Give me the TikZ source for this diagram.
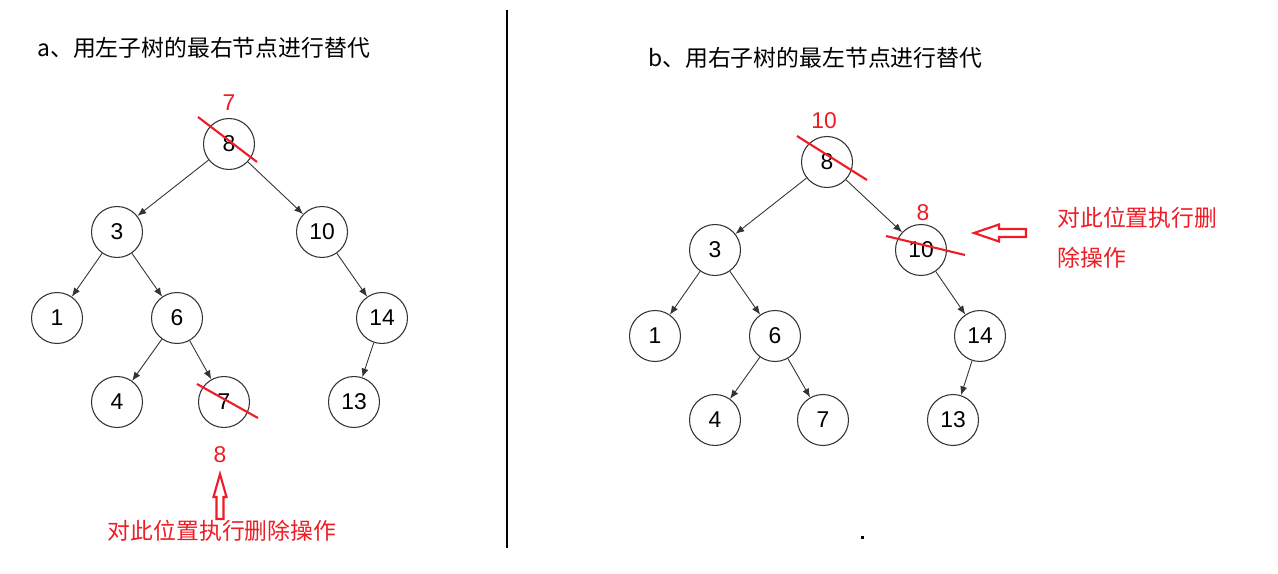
\documentclass[tikz,border=0pt]{standalone}
\usepackage{fontspec}
\setmainfont{Liberation Sans}
\newfontfamily\cjk{Noto Sans CJK SC}
\usepackage{tikz}
\usetikzlibrary{arrows.meta, calc}
\definecolor{hongse}{HTML}{EE1C25}
\definecolor{xianse}{HTML}{333333}

\begin{document}
\begin{tikzpicture}[
  x=0.02cm, y=-0.02cm,
  jiedian/.style={
    circle, draw=xianse, line width=0.6pt,
    minimum size=1.02cm, inner sep=0pt,
    font=\fontsize{13}{15}\selectfont
  },
  bian/.style={-{Latex[length=5pt,width=4pt]}, color=xianse, line width=0.5pt},
  huaxian/.style={color=hongse, line width=1.2pt},
  hongzi/.style={text=hongse, font=\fontsize{13}{15}\selectfont, inner sep=0pt},
  biaoti/.style={anchor=west, font=\cjk\fontsize{13}{15}\selectfont, inner sep=0pt},
  kongjian/.style={draw=hongse, line width=1.2pt, fill=white}
]
  \useasboundingbox (0,0) rectangle (1278,574);

  % a: left tree
  \node[biaoti] (ta) at (37,48) {a、用左子树的最右节点进行替代};
  \node[jiedian] (l8)  at (229,144) {8};
  \node[jiedian] (l3)  at (117,232) {3};
  \node[jiedian] (l10) at (322,232) {10};
  \node[jiedian] (l1)  at (57,318)  {1};
  \node[jiedian] (l6)  at (177,318) {6};
  \node[jiedian] (l14) at (382,318) {14};
  \node[jiedian] (l4)  at (117,402) {4};
  \node[jiedian] (l7)  at (224,402) {7};
  \node[jiedian] (l13) at (354,402) {13};

  \draw[bian] (l8)  -- (l3);
  \draw[bian] (l8)  -- (l10);
  \draw[bian] (l3)  -- (l1);
  \draw[bian] (l3)  -- (l6);
  \draw[bian] (l6)  -- (l4);
  \draw[bian] (l6)  -- (l7);
  \draw[bian] (l10) -- (l14);
  \draw[bian] (l14) -- (l13);

  \node[hongzi] (la7) at (229,103) {7};
  \draw[huaxian] ($(l8)+(-31,-27)$) -- ($(l8)+(28,18)$);
  \draw[huaxian] ($(l7)+(-27,-18)$) -- ($(l7)+(34,16)$);
  \node[hongzi] (lb8) at (220,455) {8};
  \draw[kongjian] (220,474) -- (226.5,497) -- (223.5,497) -- (223.5,519)
    -- (216.5,519) -- (216.5,497) -- (213.5,497) -- cycle;
  \node[hongzi, font=\cjk\fontsize{13}{15}\selectfont] (lsm) at (222,531) {对此位置执行删除操作};

  % divider
  \draw[line width=1.2pt] (507,10) coordinate (fg1) -- (507,548) coordinate (fg2);

  % b: right tree
  \node[biaoti] (tb) at (648,58) {b、用右子树的最左节点进行替代};
  \node[jiedian] (r8)  at (827,162) {8};
  \node[jiedian] (r3)  at (715,250) {3};
  \node[jiedian] (r10) at (921,250) {10};
  \node[jiedian] (r1)  at (655,336) {1};
  \node[jiedian] (r6)  at (775,336) {6};
  \node[jiedian] (r14) at (980,336) {14};
  \node[jiedian] (r4)  at (715,420) {4};
  \node[jiedian] (r7)  at (823,420) {7};
  \node[jiedian] (r13) at (953,420) {13};

  \draw[bian] (r8)  -- (r3);
  \draw[bian] (r8)  -- (r10);
  \draw[bian] (r3)  -- (r1);
  \draw[bian] (r3)  -- (r6);
  \draw[bian] (r6)  -- (r4);
  \draw[bian] (r6)  -- (r7);
  \draw[bian] (r10) -- (r14);
  \draw[bian] (r14) -- (r13);

  \node[hongzi] (ra10) at (824,121) {10};
  \draw[huaxian] ($(r8)+(-30,-26)$) -- ($(r8)+(40,18)$);
  \node[hongzi] (ra8) at (923,213) {8};
  \draw[huaxian] ($(r10)+(-35,-14)$) -- ($(r10)+(44,5)$);
  \draw[kongjian] (974,233) -- (999,224.5) -- (999,229) -- (1026,229)
    -- (1026,237) -- (999,237) -- (999,241.5) -- cycle;
  \node[hongzi, font=\cjk\fontsize{13}{15}\selectfont, anchor=west] (rsm1) at (1057,218) {对此位置执行删};
  \node[hongzi, font=\cjk\fontsize{13}{15}\selectfont, anchor=west] (rsm2) at (1057,258) {除操作};

  \fill (860.5,535.5) rectangle (864,538.5);
\end{tikzpicture}
\end{document}
